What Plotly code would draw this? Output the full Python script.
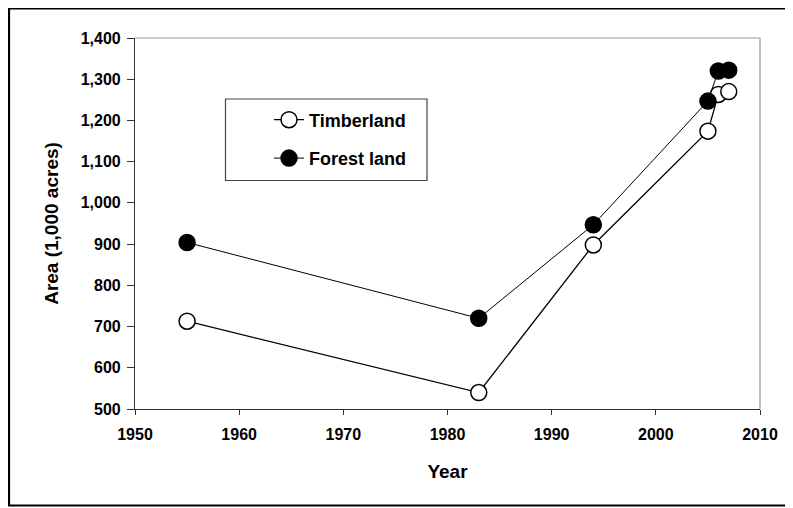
import plotly.graph_objects as go

years = [1955, 1983, 1994, 2005, 2006, 2007]
timberland = [713, 540, 898, 1174, 1263, 1270]
forest_land = [904, 720, 947, 1247, 1320, 1322]

FONT = "Liberation Sans, Arial, sans-serif"

fig = go.Figure()
fig.add_trace(go.Scatter(
    x=years, y=timberland, name="Timberland", mode="lines+markers",
    line=dict(color="black", width=1.3),
    marker=dict(symbol="circle", size=16, color="white", line=dict(color="black", width=1.5)),
    legendgroup="a",
))
fig.add_trace(go.Scatter(
    x=years, y=forest_land, name="Forest land", mode="lines+markers",
    line=dict(color="black", width=1.0),
    marker=dict(symbol="circle", size=16, color="black", line=dict(color="black", width=1.5)),
    legendgroup="b",
))

# page body has an 8px margin; figure is sized/placed to compensate
OFF = 8
W, H = 793 - OFF, 508 - OFF
L, R, T, B = 135 - OFF, 33, 38 - OFF, 99
pw, ph = W - L - R, H - T - B
SB = 409.5  # screen y of plot bottom


def px(sx):
    return (sx - 135) / pw


def py(sy):
    return (SB - sy) / ph


fig.update_layout(
    width=W, height=H,
    margin=dict(l=L, r=R, t=T, b=B),
    paper_bgcolor="white", plot_bgcolor="white",
    font=dict(family=FONT, color="black"),
    showlegend=True,
    legend=dict(
        x=px(269), y=py(102), xanchor="left", yanchor="top",
        bgcolor="rgba(0,0,0,0)", borderwidth=0,
        font=dict(family=FONT, size=18, color="black", weight="bold"),
        tracegroupgap=12, traceorder="grouped",
        itemclick=False,
    ),
    xaxis=dict(
        range=[1950, 2010], tick0=1950, dtick=10,
        showgrid=False, zeroline=False,
        showline=True, linecolor="#333333", linewidth=1.2,
        ticks="outside", ticklen=5, tickcolor="#333333",
        ticklabelstandoff=6,
        tickfont=dict(family=FONT, size=16, weight="bold"),
        title=dict(text="Year", font=dict(family=FONT, size=19, weight="bold"), standoff=22),
    ),
    yaxis=dict(
        range=[500, 1400], tick0=500, dtick=100, tickformat=",d",
        showgrid=False, zeroline=False,
        showline=True, linecolor="#333333", linewidth=1.2,
        ticks="outside", ticklen=7, tickcolor="#333333",
        ticklabelstandoff=3,
        tickfont=dict(family=FONT, size=16, weight="bold"),
        title=dict(text="Area (1,000 acres)", font=dict(family=FONT, size=19, weight="bold"), standoff=17),
    ),
    shapes=[
        dict(type="line", xref="paper", yref="paper", x0=0, x1=1, y0=1, y1=1,
             line=dict(color="#999999", width=1.2)),
        dict(type="line", xref="paper", yref="paper", x0=1, x1=1, y0=0, y1=1,
             line=dict(color="#999999", width=1.2)),
        dict(type="rect", xref="paper", yref="paper",
             x0=px(225.5), x1=px(427), y0=py(99.5), y1=py(181),
             line=dict(color="#444444", width=1.2)),
        dict(type="rect", xref="paper", yref="paper",
             x0=px(9), x1=px(788), y0=py(9), y1=py(506),
             line=dict(color="black", width=2.2)),
    ],
)

fig.write_html("out.html")
